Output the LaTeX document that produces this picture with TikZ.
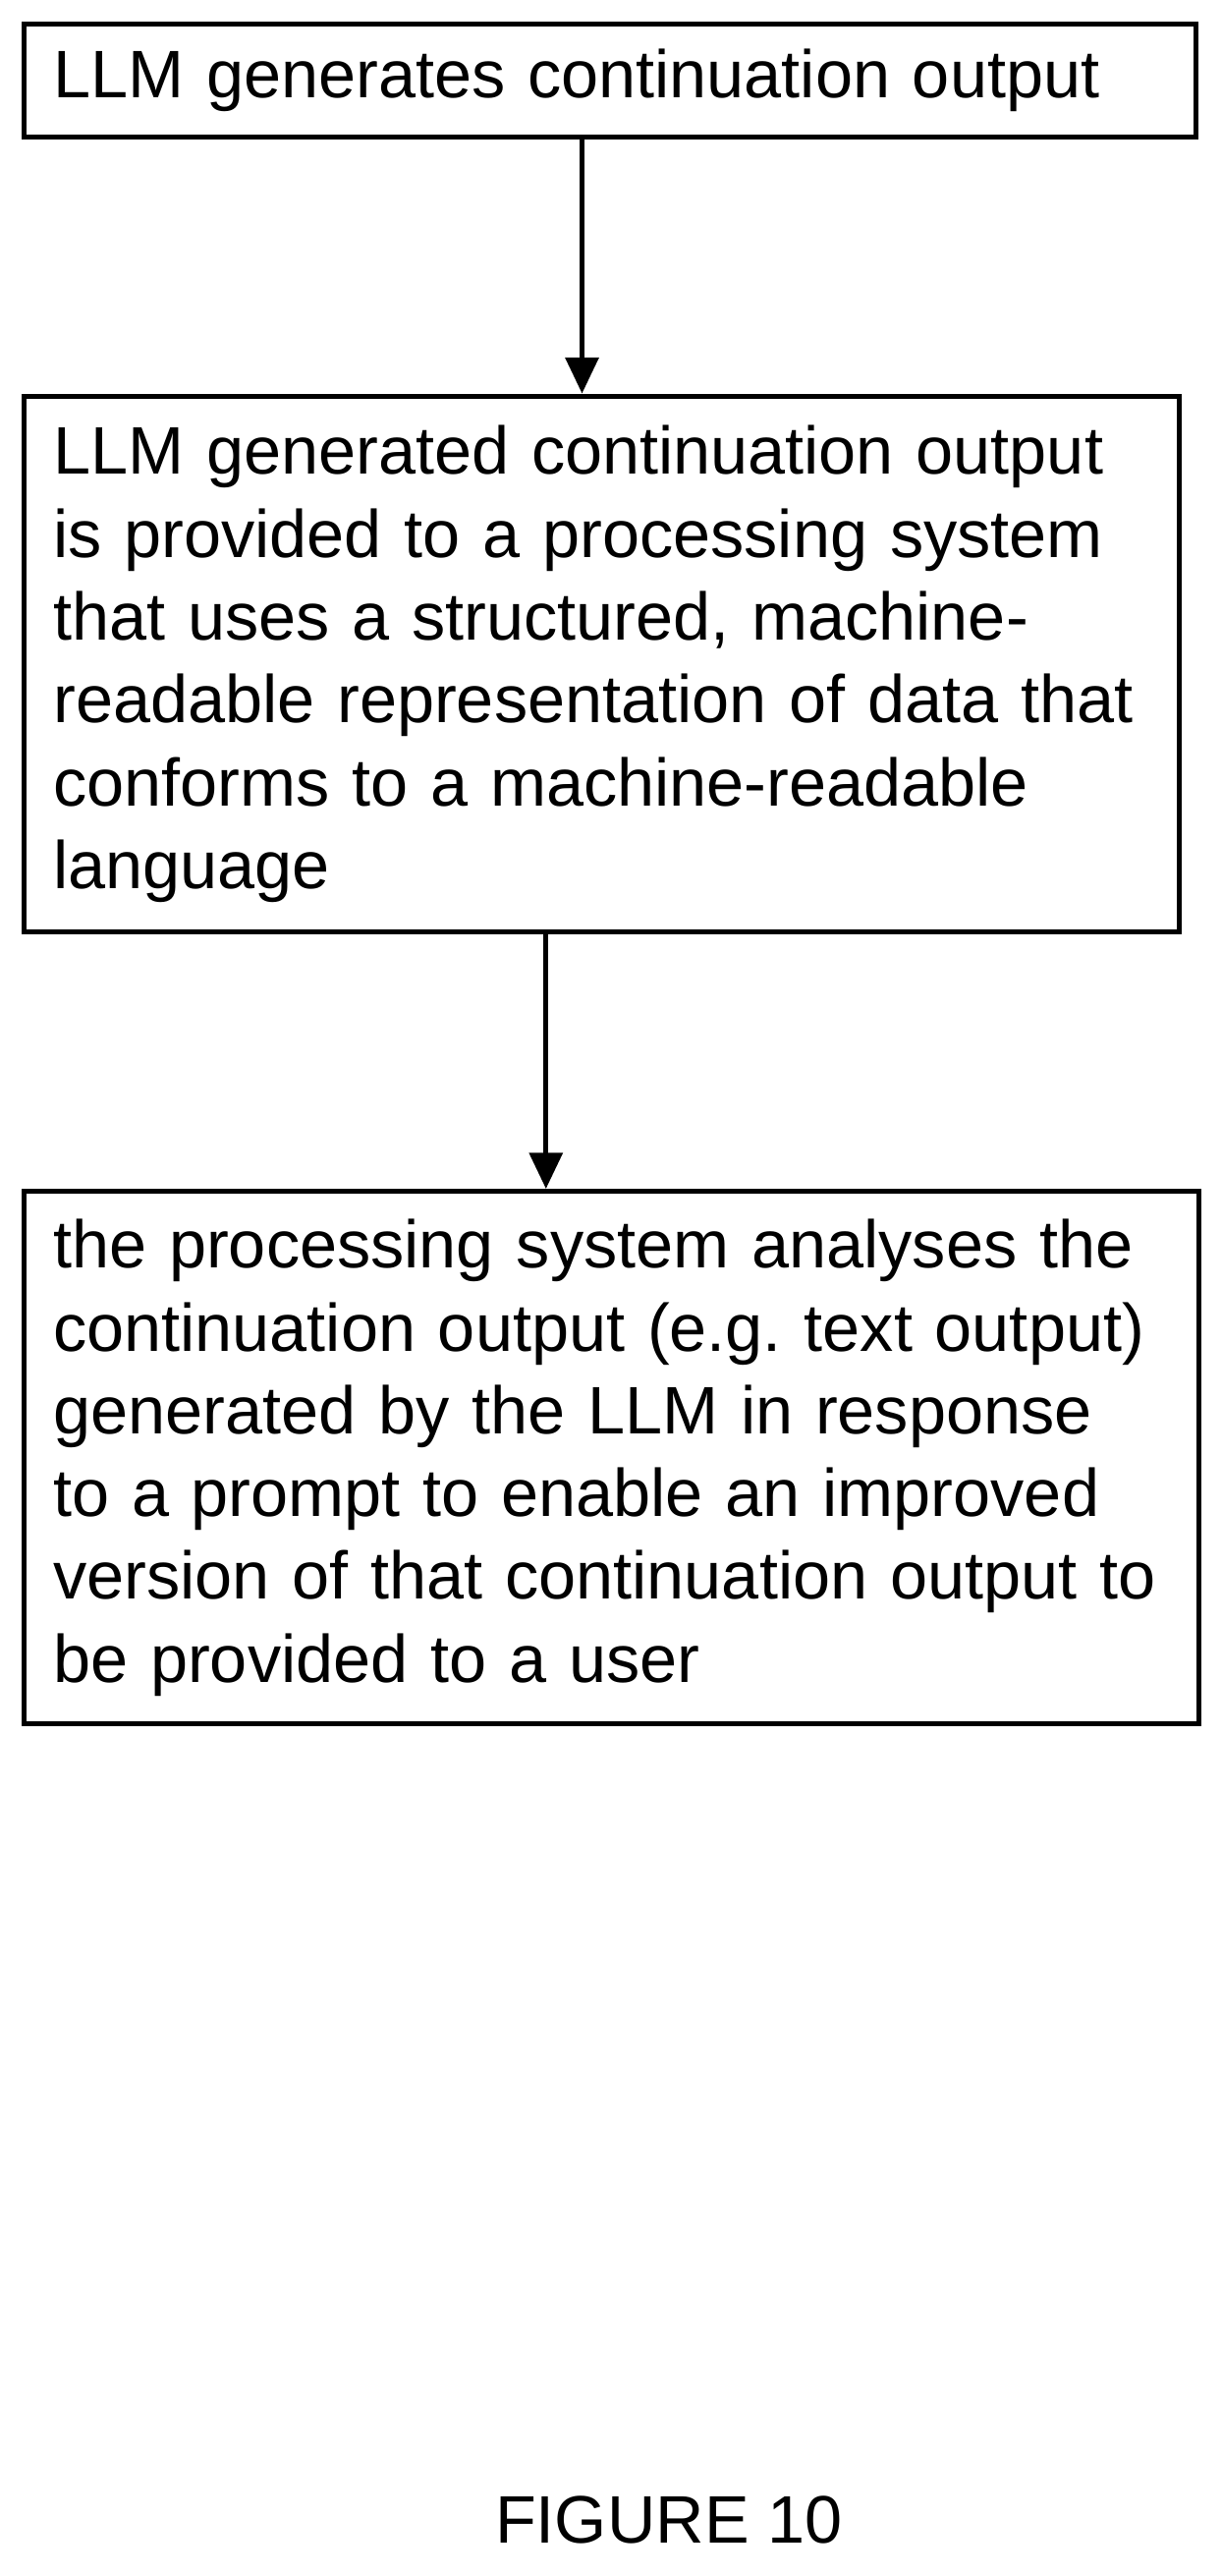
\documentclass[tikz,border=0pt]{standalone}
\usepackage{fontspec}
\setmainfont{Liberation Sans}
\usetikzlibrary{arrows.meta}
\tikzset{%
  stepbox/.style = {shape=rectangle, draw, line width=3pt, anchor=north west,%
                    align=left, inner xsep=18pt, inner ysep=8pt,%
                    font=\fontsize{41}{50.5}\selectfont},%
  flow/.style    = {line width=3.2pt, -{Triangle[length=22pt,width=20pt]}}%
}
\begin{document}
\begin{tikzpicture}[x=1pt,y=-1pt]
  \useasboundingbox (0,0) rectangle (745,1571);
  \node[stepbox, minimum width=715pt, minimum height=69pt, text width=679pt] (gen) at (13,13)
    {LLM generates continuation output};
  \node[stepbox, minimum width=705pt, minimum height=327pt, text width=669pt] (proc) at (13,240)
    {LLM generated continuation output\\is provided to a processing system\\that uses a structured, machine-\\readable representation of data that\\conforms to a machine-readable\\language};
  \node[stepbox, minimum width=717pt, minimum height=325pt, text width=681pt] (anal) at (13,725)
    {the processing system analyses the\\continuation output (e.g.\ text output)\\generated by the LLM in response\\to a prompt to enable an improved\\version of that continuation output to\\be provided to a user};
  \draw[flow] (gen.south -| 355,0) -- (proc.north -| 355,0);
  \draw[flow] (proc.south -| 333,0) -- (anal.north -| 333,0);
  \node[font=\fontsize{41}{48}\selectfont] (fig) at (408,1537) {FIGURE 10};
\end{tikzpicture}
\end{document}
